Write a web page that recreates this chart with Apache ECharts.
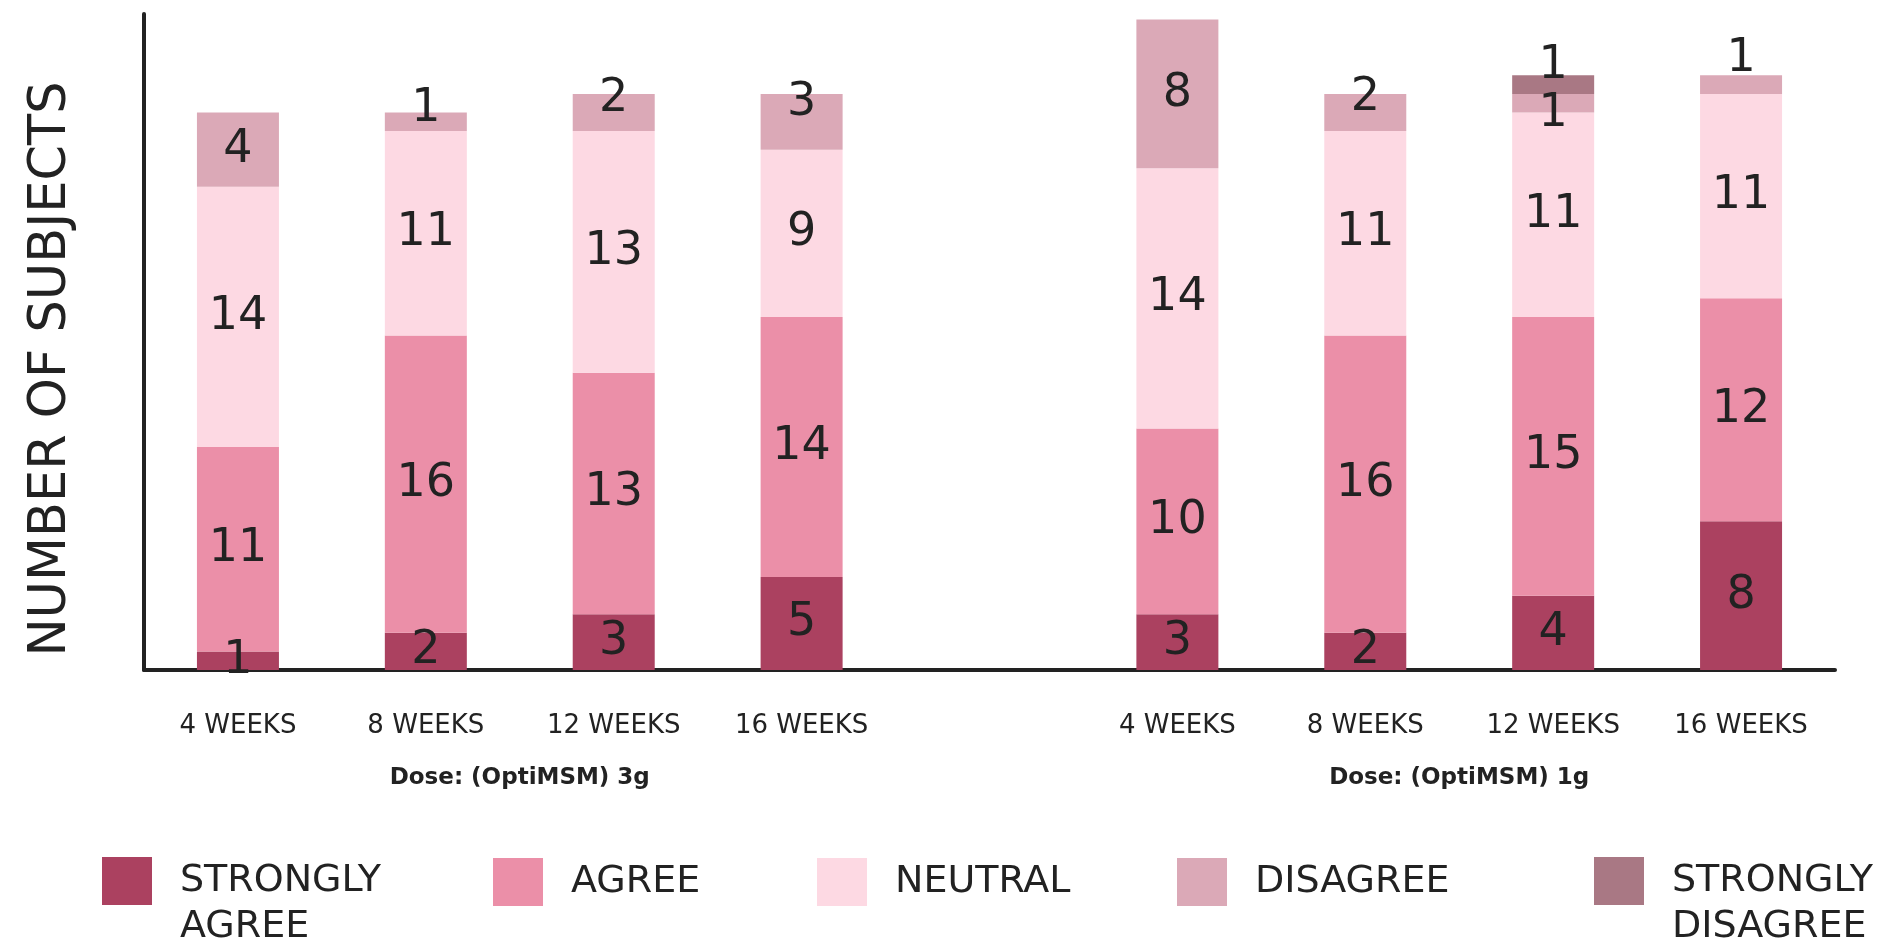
<!DOCTYPE html>
<html>
<head>
<meta charset="utf-8">
<title>OptiMSM responses</title>
<script src="https://cdn.jsdelivr.net/npm/echarts@6/dist/echarts.min.js"></script>
<style>
  html, body { margin: 0; padding: 0; background: #fff; }
  #main { width: 1887px; height: 946px; }
</style>
</head>
<body>
<div id="main"></div>
<script>
// categories: two dose groups with an empty slot between them
const categories = ["4 WEEKS", "8 WEEKS", "12 WEEKS", "16 WEEKS", "", "4 WEEKS", "8 WEEKS", "12 WEEKS", "16 WEEKS"];
const doseLabels = ["Dose: (OptiMSM) 3g", "Dose: (OptiMSM) 1g"];

const stronglyAgree = [1, 2, 3, 5, null, 3, 2, 4, 8];
const agree = [11, 16, 13, 14, null, 10, 16, 15, 12];
const neutral = [14, 11, 13, 9, null, 14, 11, 11, 11];
const disagree = [4, 1, 2, 3, null, 8, 2, 1, 1];
const stronglyDisagree = [null, null, null, null, null, null, null, 1, null];

// small label nudges so crowded top labels don't collide
const disagreeLabelShift = [0, -13, -13, -19, 0, 0, -14, 11, -26];
const sdLabelShift = [0, 0, 0, 0, 0, 0, 0, -19, 0];

const FONT = "'DejaVu Sans', sans-serif";
const TEXT = "#222";

function makeSeries(name, values, color, shifts) {
  return {
    name: name,
    type: "bar",
    stack: "total",
    barWidth: 82,
    itemStyle: { color: color },
    label: {
      show: true,
      position: "inside",
      color: TEXT,
      fontFamily: FONT,
      fontSize: 46,
      formatter: (p) => (p.value ? String(p.value) : ""),
    },
    data: values.map((v, i) => {
      if (!shifts || !shifts[i]) return v;
      return { value: v, label: { offset: [0, shifts[i]] } };
    }),
  };
}

const legendNames = ["STRONGLY AGREE", "AGREE", "NEUTRAL", "DISAGREE", "STRONGLY DISAGREE"];
const legendLeft = [102, 493, 817, 1177, 1594];

function makeLegend(name, i) {
  const twoLine = name.indexOf(" ") > 0;
  return {
    data: [name],
    left: legendLeft[i],
    top: twoLine ? 812 : 858,
    padding: 0,
    icon: "rect",
    itemWidth: 50,
    itemHeight: 48,
    selectedMode: false,
    // blank first line keeps the square level with the first text line
    formatter: (n) => (n.indexOf(" ") > 0 ? " \n" + n.replace(" ", "\n") : n),
    textStyle: {
      fontFamily: FONT,
      fontSize: 38,
      color: TEXT,
      lineHeight: 46,
      padding: [0, 0, 0, 23],
    },
  };
}

const chart = echarts.init(document.getElementById("main"));

const option = {
  animation: false,
  backgroundColor: "#fff",
  grid: { left: 144, right: 52, top: 14, bottom: 276, containLabel: false },
  legend: legendNames.map(makeLegend),
  xAxis: {
    type: "category",
    data: categories,
    axisLine: { show: true, lineStyle: { color: TEXT, width: 4 } },
    axisTick: { show: false },
    axisLabel: { interval: 0, margin: 43, color: TEXT, fontFamily: FONT, fontSize: 26 },
  },
  yAxis: {
    type: "value",
    min: 0,
    max: 35.3,
    name: "NUMBER OF SUBJECTS",
    nameLocation: "middle",
    nameRotate: 90,
    nameGap: 67,
    nameTextStyle: { color: TEXT, fontFamily: FONT, fontSize: 51, padding: [0, 54, 0, 0] },
    axisLine: { show: true, lineStyle: { color: TEXT, width: 4 } },
    axisTick: { show: false },
    axisLabel: { show: false },
    splitLine: { show: false },
  },
  series: [
    makeSeries("STRONGLY AGREE", stronglyAgree, "#ab4160"),
    makeSeries("AGREE", agree, "#eb8fa8"),
    makeSeries("NEUTRAL", neutral, "#fdd9e3"),
    makeSeries("DISAGREE", disagree, "#dba9b7", disagreeLabelShift),
    makeSeries("STRONGLY DISAGREE", stronglyDisagree, "#a97884", sdLabelShift),
  ],
};

chart.setOption(option);

// dose captions centred under each group of four bars
const groupCenter = (a, b) => (chart.convertToPixel({ xAxisIndex: 0 }, a) + chart.convertToPixel({ xAxisIndex: 0 }, b)) / 2;
chart.setOption({
  graphic: [
    { type: "text", x: groupCenter(0, 3), y: 778, style: { text: doseLabels[0], textAlign: "center", textVerticalAlign: "middle", fill: TEXT, font: "bold 23px " + FONT } },
    { type: "text", x: groupCenter(5, 8), y: 778, style: { text: doseLabels[1], textAlign: "center", textVerticalAlign: "middle", fill: TEXT, font: "bold 23px " + FONT } },
  ],
});
</script>
</body>
</html>
